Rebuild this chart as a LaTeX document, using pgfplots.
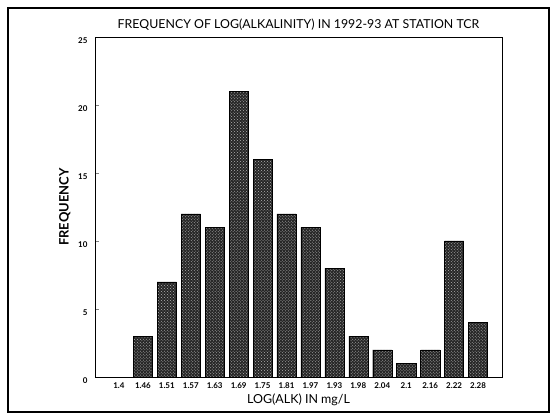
\documentclass[border=0pt]{standalone}
\usepackage{fontspec}
\setmainfont{Lato}
\usepackage{pgfplots}
\pgfplotsset{compat=1.18}
\usetikzlibrary{patterns}
\begin{document}
\begin{tikzpicture}
\useasboundingbox (0,0) rectangle (553bp,414bp);
\draw[line width=1.5pt] (8bp,2bp) rectangle (549bp,406bp);
\begin{axis}[
    at={(95bp,37bp)}, anchor=south west,
    width=407bp, height=340bp, scale only axis,
    xmin=-1, xmax=16, ymin=0, ymax=25,
    xtick={0,...,15},
    xticklabels={1.4,1.46,1.51,1.57,1.63,1.69,1.75,1.81,1.97,1.93,1.98,2.04,2.1,2.16,2.22,2.28},
    xtick style={draw=none},
    ytick={0,5,...,25},
    ytick pos=left, tick align=inside,
    major tick length=4bp,
    /pgf/number format/assume math mode=true,
    xticklabel style={font=\fontsize{8}{9}\selectfont\bfseries, yshift=-2bp},
    yticklabel style={font=\fontsize{8}{9}\selectfont\bfseries, xshift=-4bp, yshift=-4bp},
    title={FREQUENCY OF LOG(ALKALINITY) IN 1992-93 AT STATION TCR},
    title style={font=\fontsize{12.4}{14}\selectfont, yshift=-3bp},
    xlabel={LOG(ALK) IN mg/L},
    xlabel style={font=\fontsize{12.5}{14}\selectfont, yshift=1bp},
    ylabel={FREQUENCY},
    ylabel style={font=\fontsize{13}{14}\selectfont\bfseries, yshift=1bp},
    axis line style={line width=0.8pt},
  ]
  \addplot[ybar, bar width=0.8, draw=black, fill=black!85,
    postaction={pattern=crosshatch dots, pattern color=white!70!black}]
    coordinates {
    (0,0) (1,3) (2,7) (3,12) (4,11) (5,21) (6,16) (7,12)
    (8,11) (9,8) (10,3) (11,2) (12,1) (13,2) (14,10) (15,4)
  };
\end{axis}
\end{tikzpicture}
\end{document}
